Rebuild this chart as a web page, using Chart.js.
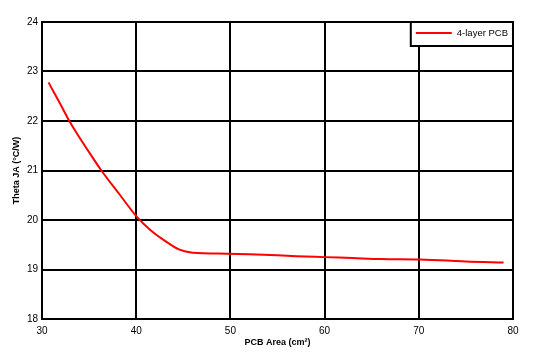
<!DOCTYPE html>
<html>
<head>
<meta charset="utf-8">
<script src="https://cdn.jsdelivr.net/npm/chart.js@4"></script>
<style>
  html, body { margin: 0; padding: 0; background: #fff; }
  #wrap { width: 533px; height: 360px; }
</style>
</head>
<body>
<div id="wrap"><canvas id="chart"></canvas></div>
<script>
// PCB area (cm²) vs Theta JA (°C/W)
const areaValues = [30.7, 31.2, 31.9, 32.9, 35.1, 36.3, 38.3, 40.0, 41.5, 42.9, 44.6, 46.0, 49.6, 52, 55, 57, 60, 63, 66, 70, 73, 75, 79];
const thetaValues = [22.78, 22.60, 22.36, 22.0, 21.34, 21.0, 20.50, 20.08, 19.80, 19.60, 19.40, 19.34, 19.32, 19.31, 19.29, 19.27, 19.25, 19.23, 19.21, 19.2, 19.18, 19.16, 19.14];
const seriesLabel = '4-layer PCB';
const xTitle = 'PCB Area (cm²)';
const yTitle = 'Theta JA (°C/W)';

const FONT = 'Arial, "Liberation Sans", sans-serif';

// legend box drawn inside the plot, top-right corner
const insideLegend = {
  id: 'insideLegend',
  afterDraw(chart) {
    const ctx = chart.ctx;
    const area = chart.chartArea;
    const ds = chart.data.datasets[0];
    ctx.save();
    ctx.font = '9.5px ' + FONT;
    const tw = ctx.measureText(ds.label).width;
    const w = 5 + 36 + 5 + tw + 5;
    const h = 24;
    const x = area.right - w;
    const y = area.top;
    ctx.fillStyle = '#fff';
    ctx.fillRect(x, y, w, h);
    ctx.strokeStyle = '#000';
    ctx.lineWidth = 2;
    ctx.strokeRect(x, y, w, h);
    ctx.strokeStyle = ds.borderColor;
    ctx.lineWidth = 2;
    ctx.beginPath();
    ctx.moveTo(x + 5, y + 11);
    ctx.lineTo(x + 41, y + 11);
    ctx.stroke();
    ctx.fillStyle = '#000';
    ctx.textBaseline = 'middle';
    ctx.fillText(ds.label, x + 46, y + 11);
    ctx.restore();
  }
};

new Chart(document.getElementById('chart'), {
  type: 'line',
  data: {
    datasets: [{
      label: seriesLabel,
      data: areaValues.map((a, i) => ({ x: a, y: thetaValues[i] })),
      borderColor: '#ff0000',
      borderWidth: 2,
      pointRadius: 0,
      cubicInterpolationMode: 'monotone',
      fill: false
    }]
  },
  options: {
    responsive: true,
    maintainAspectRatio: false,
    animation: false,
    layout: { padding: { top: 22, right: 20, left: 0, bottom: 0 } },
    plugins: {
      legend: { display: false },
      tooltip: { enabled: false }
    },
    scales: {
      x: {
        type: 'linear',
        min: 30,
        max: 80,
        ticks: { stepSize: 10, padding: 6, color: '#000', font: { family: FONT, size: 10 }, maxRotation: 0 },
        grid: { color: '#000', lineWidth: 2, drawTicks: false },
        border: { color: '#000', width: 2 },
        title: { display: true, text: xTitle, color: '#000', font: { family: FONT, size: 9, weight: 'bold' }, padding: { top: 2, bottom: 12 } },
        afterFit(scale) { scale.height = 41; }
      },
      y: {
        min: 18,
        max: 24,
        ticks: { stepSize: 1, padding: 4, color: '#000', font: { family: FONT, size: 10 } },
        grid: { color: '#000', lineWidth: 2, drawTicks: false },
        border: { color: '#000', width: 2 },
        title: { display: true, text: yTitle, color: '#000', font: { family: FONT, size: 9, weight: 'bold' }, padding: { top: 11, bottom: 0 } },
        afterFit(scale) { scale.width = 42; }
      }
    }
  },
  plugins: [insideLegend]
});
</script>
</body>
</html>
